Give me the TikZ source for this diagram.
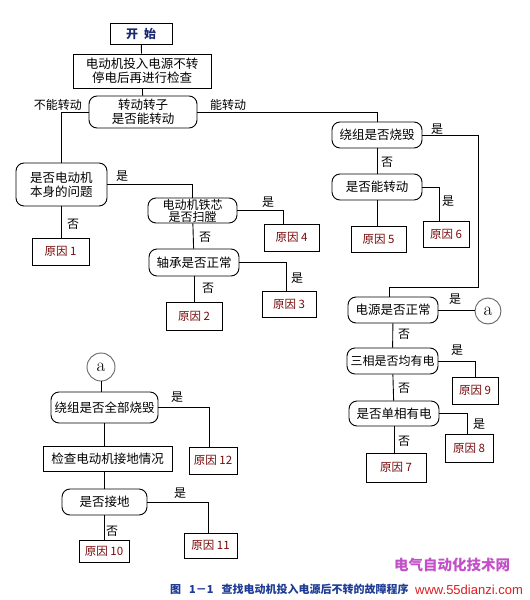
\documentclass[tikz,border=0pt]{standalone}
\usepackage{fontspec}
\newfontfamily\cjk{Noto Sans CJK SC}
\newfontfamily\webfont{Liberation Sans}
\usepackage{tikz}
\usetikzlibrary{positioning, calc}
\definecolor{startblue}{RGB}{25,40,115}
\definecolor{reasonred}{RGB}{120,10,10}
\definecolor{capblue}{RGB}{30,60,150}
\definecolor{markpurple}{RGB}{195,80,200}
\definecolor{markred}{RGB}{220,30,30}
\tikzset{
  startbox/.style={rectangle, draw=black, line width=0.9pt, fill=white, minimum width=62pt, minimum height=21pt, inner sep=0pt, text=startblue, font=\cjk\bfseries\fontsize{12}{14}\selectfont},
  procbox/.style={rectangle, draw=black, line width=0.9pt, fill=white, inner sep=0pt, align=center, font=\cjk\fontsize{12.5}{14}\selectfont},
  decbox/.style={rectangle, rounded corners=8pt, draw=black, line width=0.9pt, fill=white, minimum width=90pt, minimum height=26pt, inner sep=0pt, align=center, font=\cjk\fontsize{12.5}{14}\selectfont},
  reasonbox/.style={rectangle, draw=black, line width=0.9pt, fill=white, minimum width=54pt, minimum height=26pt, inner sep=0pt, text=reasonred, font=\cjk\fontsize{11.5}{13}\selectfont},
  yesno/.style={inner sep=0pt, font=\cjk\fontsize{12}{14}\selectfont},
  connector/.style={circle, draw=black!60, line width=0.9pt, fill=white, minimum size=26pt, inner sep=0pt, font=\fontsize{19}{19}\selectfont},
  link/.style={line width=0.9pt}
}

\begin{document}
\begin{tikzpicture}[x=1pt, y=-1pt]
    \useasboundingbox (0,0) rectangle (530,600);
    \fill[white] (0,0) rectangle (530,600);

    % ==========================================
    % 1. 开始与主干
    % ==========================================
    \node[startbox] (start) at (141,33.5) {开\hspace{6pt}始};
    \node[procbox, minimum width=138pt, minimum height=34pt] (power) at (142,71) {电动机投入电源不转\\停电后再进行检查};
    \node[decbox, minimum width=108pt, minimum height=32pt] (rotor) at (143,112) {转动转子\\是否能转动};

    \node[yesno] (nturn) at (58,105) {不能转动};
    \node[yesno] (yturn) at (228,105) {能转动};

    % ==========================================
    % 2. 转子不能转动
    % ==========================================
    \node[decbox, minimum width=91pt, minimum height=43pt] (selfq) at (61.5,184.5) {是否电动机\\本身的问题};
    \node[reasonbox, minimum width=57pt, minimum height=27pt] (r1) at (60.5,251.5) {原因 1};
    \node[decbox, minimum width=89pt, minimum height=25pt, font=\cjk\fontsize{12}{10}\selectfont] (core) at (192.5,210.5) {电动机铁芯\\是否扫膛};
    \node[reasonbox, minimum width=55pt, minimum height=27pt] (r4) at (291.5,237.5) {原因 4};
    \node[decbox, minimum height=27pt] (bearing) at (194,262.5) {轴承是否正常};
    \node[reasonbox] (r3) at (289,304) {原因 3};
    \node[reasonbox, minimum width=56pt, minimum height=28pt] (r2) at (194,316) {原因 2};

    \node[yesno] (y1) at (122,176) {是};
    \node[yesno] (n1) at (73,224) {否};
    \node[yesno] (y2) at (268,202) {是};
    \node[yesno] (n2) at (205,237) {否};
    \node[yesno] (y3) at (297,278) {是};
    \node[yesno] (n3) at (208,288) {否};

    % ==========================================
    % 3. 转子能转动
    % ==========================================
    \node[decbox] (winding) at (377,135) {绕组是否烧毁};
    \node[decbox] (turn) at (377,187) {是否能转动};
    \node[reasonbox, minimum width=55pt] (r5) at (378.5,239) {原因 5};
    \node[reasonbox, minimum width=46pt] (r6) at (446,234) {原因 6};
    \node[decbox] (supply) at (393,310) {电源是否正常};
    \node[connector] (conA) at (488,311) {a};
    \node[decbox, minimum width=91pt, font=\cjk\fontsize{12}{14}\selectfont] (three) at (392.5,361) {三相是否均有电};
    \node[reasonbox, minimum width=46pt, minimum height=27pt] (r9) at (475,390.5) {原因 9};
    \node[decbox, minimum height=25pt] (single) at (394,413.5) {是否单相有电};
    \node[reasonbox, minimum width=48pt, minimum height=28pt] (r8) at (469,448) {原因 8};
    \node[reasonbox, minimum width=60pt, minimum height=29pt] (r7) at (396,467.5) {原因 7};

    \node[yesno] (y4) at (437,129) {是};
    \node[yesno] (n4) at (387,162) {否};
    \node[yesno] (y5) at (448,201) {是};
    \node[yesno] (y6) at (455,299) {是};
    \node[yesno] (n6) at (404,334) {否};
    \node[yesno] (y7) at (457,350) {是};
    \node[yesno] (n7) at (404,388) {否};
    \node[yesno] (y8) at (479,424) {是};
    \node[yesno] (n8) at (404,441) {否};

    % ==========================================
    % 4. 接点 a 之后
    % ==========================================
    \node[connector, minimum size=28pt] (conB) at (101,367) {a};
    \node[decbox, minimum width=107pt, minimum height=31pt] (allburn) at (104.5,407.5) {绕组是否全部烧毁};
    \node[reasonbox, minimum width=48pt, minimum height=27pt] (r12) at (213,460.5) {原因 12};
    \node[procbox, minimum width=129pt, minimum height=25pt] (ground) at (107.5,458.5) {检查电动机接地情况};
    \node[decbox, minimum width=85pt] (grounded) at (104.5,502) {是否接地};
    \node[reasonbox, minimum width=53pt, minimum height=25pt] (r11) at (210.5,545.5) {原因 11};
    \node[reasonbox, minimum width=50pt, minimum height=22pt] (r10) at (104,551) {原因 10};

    \node[yesno] (y9) at (177,397) {是};
    \node[yesno] (y10) at (180,493) {是};
    \node[yesno] (n10) at (112,531) {否};

    % 连线
    \draw[link] (start) -- (power);
    \draw[link] (power) -- (rotor);
    \draw[link] (rotor.west) -| (selfq.north);
    \draw[link] (rotor.east) -| (winding.north);
    \draw[link] (selfq.east) -| (core.north);
    \draw[link] (selfq.south) -- (selfq.south |- r1.north);
    \draw[link] (core.east) -| ([xshift=-8pt]r4.north);
    \draw[link] (core) -- (bearing);
    \draw[link] (bearing.east) -| ([xshift=-3pt]r3.north);
    \draw[link] (bearing) -- (r2);

    \coordinate (bend) at (478,287);
    \draw[link] (winding.east) -| (bend) -| ([xshift=-4pt]supply.north);
    \draw[link] (winding) -- (turn);
    \draw[link] (turn.east) -| ([xshift=-7pt]r6.north);
    \draw[link] (turn.south) -- (turn.south |- r5.north);
    \draw[link] (supply.east) -- (supply.east -| conA.west);
    \draw[link] (supply) -- (three);
    \draw[link] (three.east) -| (r9.north);
    \draw[link] (three) -- (single);
    \draw[link] (single.east) -| ([xshift=-2pt]r8.north);
    \draw[link] (single.south) -- (single.south |- r7.north);

    \draw[link] (conB.south) -- (conB.south |- allburn.north);
    \draw[link] (allburn.east) -| ([xshift=-4pt]r12.north);
    \draw[link] (allburn.south) -- (allburn.south |- ground.north);
    \draw[link] (grounded.north) -- (grounded.north |- ground.south);
    \draw[link] (grounded.east) -| ([xshift=-2pt]r11.north);
    \draw[link] (grounded.south) -- (grounded.south |- r10.north);

    % ==========================================
    % 5. 图题与水印
    % ==========================================
    \node[anchor=west, inner sep=0pt, text=capblue, font=\cjk\bfseries\fontsize{11}{13}\selectfont] (caption) at (170,589) {图\hspace{8pt}1－1\hspace{8pt}查找电动机投入电源后不转的故障程序};
    \node[inner sep=0pt, text=markpurple, font=\cjk\bfseries\fontsize{14.5}{16}\selectfont] (mark) at (452,565) {电气自动化技术网};
    \node[anchor=west, inner sep=0pt, text=markred, font=\webfont\fontsize{13}{15}\selectfont] (site) at (415,590) {www.55dianzi.com};

\end{tikzpicture}
\end{document}
